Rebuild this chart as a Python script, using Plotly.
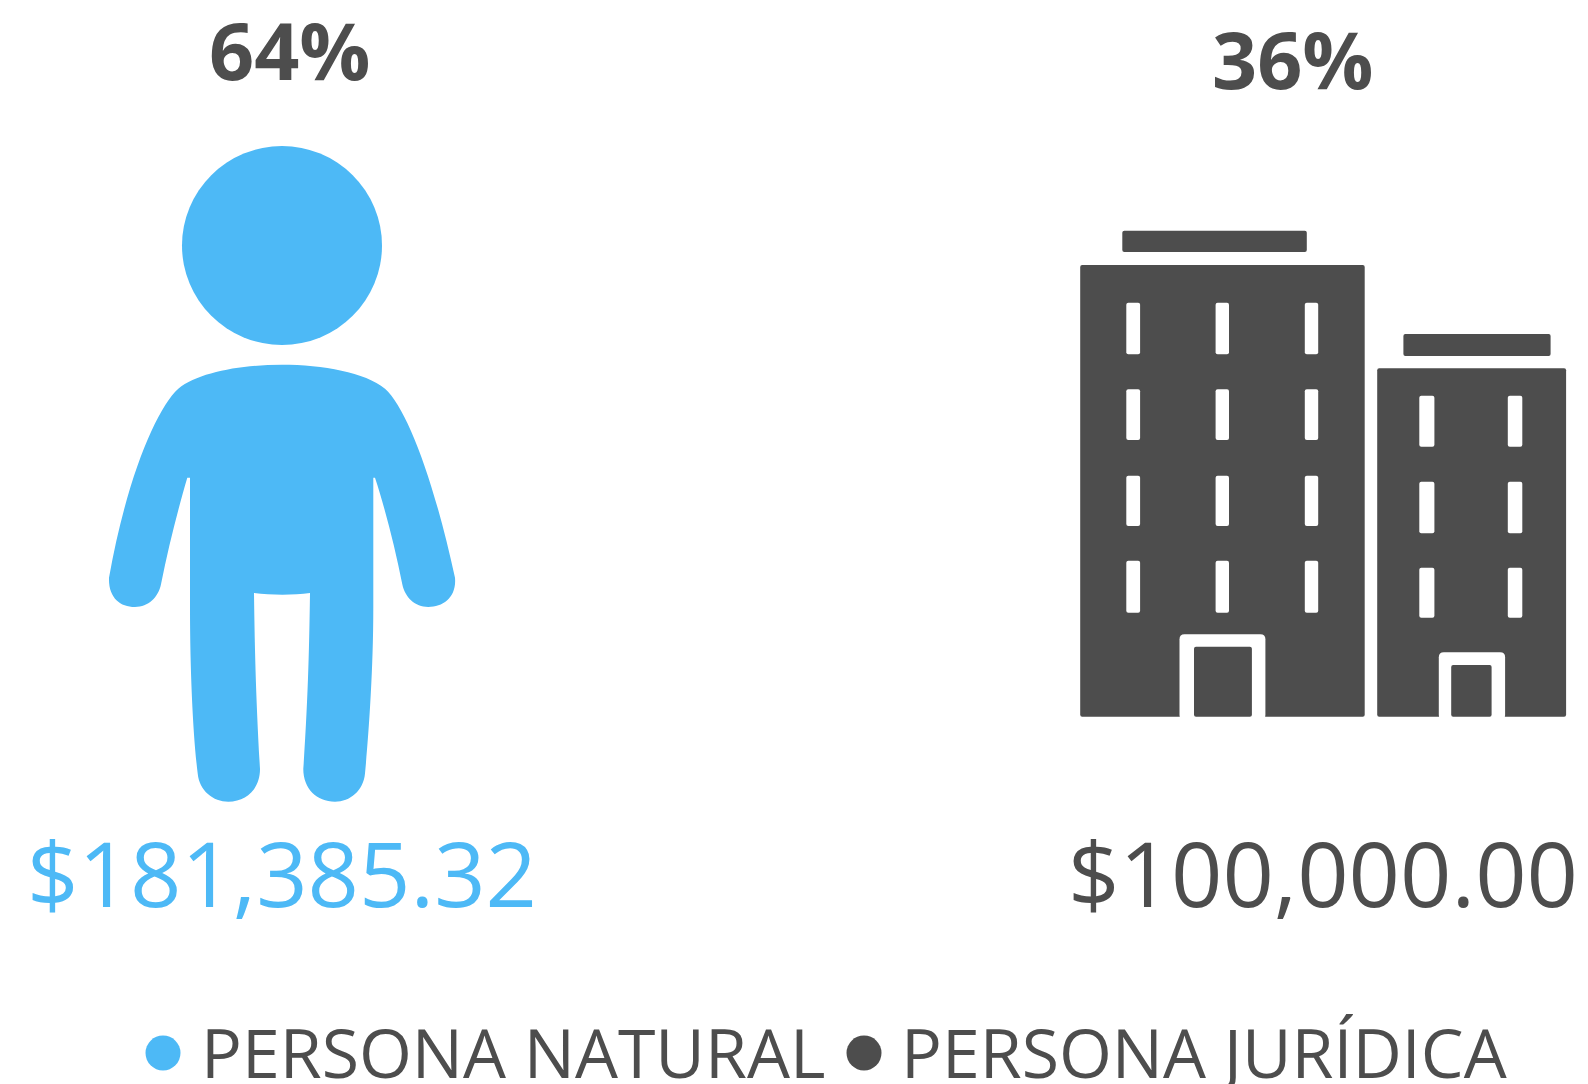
import plotly.graph_objects as go

categories = ["PERSONA NATURAL", "PERSONA JURÍDICA"]
percentages = [64, 36]
amounts = [181385.32, 100000.00]
colors = ["#4DB9F6", "#4D4D4D"]
WHITE = "#FFFFFF"
FONT = "Open Sans"


def px(ax, ay, x0, y0, sx, sy):
    return x0 + ax / sx, y0 + ay / sy


def P(x, y):
    return "%.1f,%.1f" % px(x, y, 90, 130, 3.0, 2.3)


person_segments = [
    "M", (575, 540),
    "C", (700, 540), (825, 558), (885, 595),
    "C", (950, 640), (1030, 800), (1095, 1030),
    "C", (1100, 1075), (1060, 1097), (1015, 1097),
    "C", (975, 1097), (945, 1075), (937, 1045),
    "C", (915, 960), (885, 870), (855, 800),
    "L", (850, 800),
    "L", (850, 1100),
    "C", (850, 1250), (835, 1400), (825, 1480),
    "C", (820, 1520), (780, 1545), (735, 1545),
    "C", (680, 1545), (640, 1515), (640, 1470),
    "C", (655, 1300), (658, 1180), (660, 1065),
    "C", (610, 1070), (545, 1070), (492, 1065),
    "C", (494, 1180), (497, 1300), (510, 1470),
    "C", (510, 1515), (470, 1545), (415, 1545),
    "C", (370, 1545), (328, 1520), (323, 1480),
    "C", (310, 1400), (300, 1250), (300, 1100),
    "L", (300, 800),
    "L", (292, 800),
    "C", (265, 870), (235, 960), (213, 1045),
    "C", (205, 1075), (175, 1097), (135, 1097),
    "C", (90, 1097), (55, 1075), (57, 1030),
    "C", (110, 800), (200, 640), (265, 595),
    "C", (325, 558), (450, 540), (575, 540),
]

parts = []
for s in person_segments:
    parts.append(s if isinstance(s, str) else P(*s))
person_path = " ".join(parts) + " Z"

shapes = [
    dict(type="circle", x0=182, x1=382, y0=146, y1=345, fillcolor=colors[0], line_width=0),
    dict(type="path", path=person_path, fillcolor=colors[0], line_width=0),
]


def rect(x0, y0, x1, y1, color, r=2.0):
    xa, ya = px(x0, y0, 1060, 220, 2.97, 3.0)
    xb, yb = px(x1, y1, 1060, 220, 2.97, 3.0)
    path = (
        f"M {xa+r:.1f},{ya:.1f} L {xb-r:.1f},{ya:.1f} Q {xb:.1f},{ya:.1f} {xb:.1f},{ya+r:.1f} "
        f"L {xb:.1f},{yb-r:.1f} Q {xb:.1f},{yb:.1f} {xb-r:.1f},{yb:.1f} "
        f"L {xa+r:.1f},{yb:.1f} Q {xa:.1f},{yb:.1f} {xa:.1f},{yb-r:.1f} "
        f"L {xa:.1f},{ya+r:.1f} Q {xa:.1f},{ya:.1f} {xa+r:.1f},{ya:.1f} Z"
    )
    return dict(type="path", path=path, fillcolor=color, line_width=0)


dark = colors[1]
shapes += [
    rect(185, 32, 733, 96, dark),
    rect(60, 135, 905, 1490, dark),
    rect(1020, 342, 1457, 408, dark),
    rect(942, 445, 1503, 1490, dark),
]
for cx0, cx1 in [(197, 238), (462, 502), (727, 767)]:
    for ry0, ry1 in [(248, 403), (508, 660), (767, 918), (1022, 1178)]:
        shapes.append(rect(cx0, ry0, cx1, ry1, WHITE))
for cx0, cx1 in [(1067, 1112), (1330, 1373)]:
    for ry0, ry1 in [(527, 680), (785, 940), (1043, 1193)]:
        shapes.append(rect(cx0, ry0, cx1, ry1, WHITE))
shapes += [
    rect(355, 1243, 610, 1500, WHITE, 5),
    rect(398, 1280, 570, 1490, dark),
    rect(1125, 1297, 1322, 1500, WHITE, 5),
    rect(1162, 1335, 1282, 1490, dark),
]
for s in shapes:
    s.update(xref="x", yref="y", layer="below")

fig = go.Figure()

fig.add_trace(go.Scatter(
    x=[163, 864], y=[1053, 1053], mode="markers",
    marker=dict(size=35, color=colors, line_width=0),
    hoverinfo="skip", showlegend=False,
))

annotations = []


def label(x, y, text, size, color, weight=400):
    annotations.append(dict(
        x=x, y=y, xref="x", yref="y", text=text, showarrow=False,
        xanchor="center", yanchor="middle",
        font=dict(family=FONT, size=size, color=color, weight=weight),
    ))


label(290, 49, f"{percentages[0]}%", 79, dark, 700)
label(1293, 58, f"{percentages[1]}%", 79, dark, 700)
label(282, 872, f"${amounts[0]:,.2f}", 90, colors[0], 400)
label(1323, 872, f"${amounts[1]:,.2f}", 90, dark, 400)
label(513, 1051, categories[0], 68, dark, 400)
label(1204, 1051, categories[1], 68, dark, 400)

fig.update_layout(
    width=1588, height=1084,
    margin=dict(l=0, r=0, t=0, b=0),
    paper_bgcolor=WHITE, plot_bgcolor=WHITE,
    xaxis=dict(range=[0, 1588], visible=False, fixedrange=True),
    yaxis=dict(range=[1084, 0], visible=False, fixedrange=True),
    shapes=shapes, annotations=annotations, showlegend=False,
)

fig.write_html("out.html", config=dict(displayModeBar=False),
               post_script="document.body.style.margin='0';document.body.style.overflow='hidden';")
